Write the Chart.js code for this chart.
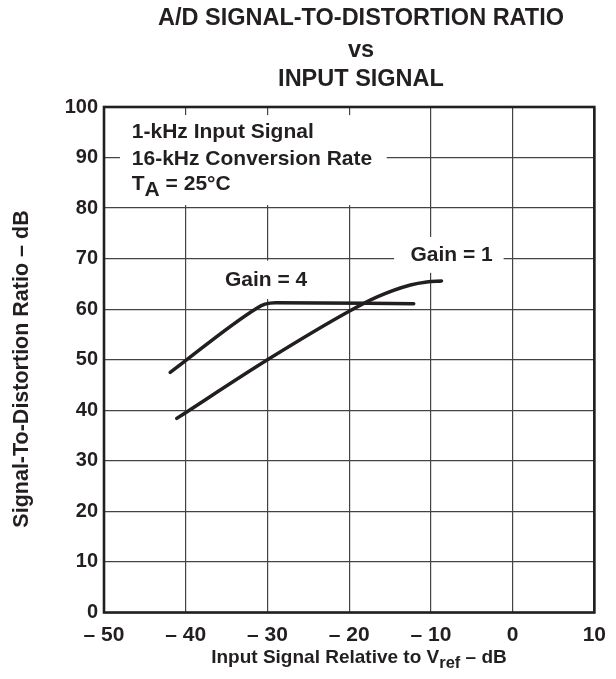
<!DOCTYPE html>
<html><head><meta charset="utf-8">
<script src="https://cdn.jsdelivr.net/npm/chart.js@4.4.1/dist/chart.umd.min.js"></script>
<style>html,body{margin:0;padding:0;background:#fff}#wrap{position:relative;width:616px;height:679px}</style>
</head><body><div id="wrap"><canvas id="c"></canvas></div>
<script>
/* A/D signal-to-distortion vs input signal */
const xTickLabels=['– 50','– 40','– 30','– 20','– 10','0','10'];
const yTickLabels=['0','10','20','30','40','50','60','70','80','90','100'];
const gain4X=[-41.9,-31.3,-30.3,-29,-12.1];
const gain4Y=[47.5,60.2,61.0,61.3,61.1];
const gain1X=[-41.1,-30,-20,-16.5,-12.5,-10.5,-8.7];
const gain1Y=[38.4,50.0,59.6,62.5,64.8,65.4,65.6];
const titleLines=['A/D SIGNAL-TO-DISTORTION RATIO','vs','INPUT SIGNAL'];
const noteLines=['1-kHz Input Signal','16-kHz Conversion Rate'];
const seriesNames=['Gain = 4','Gain = 1'];

const INK='#231f20';
function F(s){ return 'bold '+s+'px "Liberation Sans", Arial, Helvetica, sans-serif'; }
function pts(xs,ys){ return xs.map((x,i)=>({x,y:ys[i]})); }

function P(c,x,y){ return [c.scales.x.getPixelForValue(x), c.scales.y.getPixelForValue(y)]; }
function box(ctx,c,x0,y0,x1,y1){ const a=P(c,x0,y0), b=P(c,x1,y1); ctx.fillStyle='#fff'; ctx.fillRect(a[0],b[1],b[0]-a[0],a[1]-b[1]); }
function txt(ctx,c,s,x,y,size){ const p=P(c,x,y); ctx.font=F(size); ctx.fillStyle=INK; ctx.textAlign='left'; ctx.textBaseline='alphabetic'; ctx.fillText(s,p[0],p[1]); return p; }
// text with a subscript part: [main, sub, rest]
function subText(ctx,x,y,parts,size,subSize,drop,align){
  ctx.font=F(size); const w0=ctx.measureText(parts[0]).width, w2=ctx.measureText(parts[2]).width;
  ctx.font=F(subSize); const w1=ctx.measureText(parts[1]).width;
  let sx=align==='center'? x-(w0+w1+w2)/2 : x;
  ctx.fillStyle=INK; ctx.textAlign='left'; ctx.textBaseline='alphabetic';
  ctx.font=F(size); ctx.fillText(parts[0],sx,y);
  ctx.font=F(subSize); ctx.fillText(parts[1],sx+w0,y+drop);
  ctx.font=F(size); ctx.fillText(parts[2],sx+w0+w1,y);
}

const notes={
  id:'notes',
  beforeDatasetsDraw(c){
    const ctx=c.ctx; ctx.save();
    box(ctx,c,-48.05,80.6,-15.4,98.4);
    box(ctx,c,-36.7,62.0,-24.3,69.6);
    box(ctx,c,-14.5,67.2,-1.1,74.3);
    txt(ctx,c,noteLines[0],-46.6,93.8,21);
    txt(ctx,c,noteLines[1],-46.6,88.5,21);
    const p=P(c,-46.6,83.6);
    subText(ctx,p[0],p[1],['T','A',' = 25°C'],21,21,6.5,'left');
    txt(ctx,c,seriesNames[0],-35.2,64.6,21);
    txt(ctx,c,seriesNames[1],-12.5,69.6,21);
    ctx.restore();
  },
  afterDraw(c){
    const ctx=c.ctx, a=c.chartArea; ctx.save();
    ctx.strokeStyle=INK; ctx.lineWidth=2.6;
    ctx.strokeRect(a.left,a.top,a.right-a.left,a.bottom-a.top);
    // titles
    const cx=361;
    ctx.fillStyle=INK; ctx.textAlign='center'; ctx.textBaseline='alphabetic';
    ctx.font=F(23.5);
    ctx.fillText(titleLines[0],cx,25);
    ctx.fillText(titleLines[1],cx,57);
    ctx.fillText(titleLines[2],cx,85.5);
    subText(ctx,359,663,['Input Signal Relative to V','ref',' – dB'],19,16.5,5,'center');
    ctx.translate(27.5,369); ctx.rotate(-Math.PI/2);
    ctx.font=F(21.5); ctx.textAlign='center';
    ctx.fillText('Signal-To-Distortion Ratio – dB',0,0);
    ctx.restore();
  }
};

const line={borderColor:INK,borderWidth:3.5,pointRadius:0,fill:false,cubicInterpolationMode:'monotone',borderCapStyle:'round',borderJoinStyle:'round'};
new Chart(document.getElementById('c'),{
  type:'line',
  data:{datasets:[
    Object.assign({label:seriesNames[0],data:pts(gain4X,gain4Y)},line),
    Object.assign({label:seriesNames[1],data:pts(gain1X,gain1Y)},line)
  ]},
  options:{
    responsive:true,maintainAspectRatio:false,animation:false,
    layout:{padding:{top:107,right:11.7,left:0,bottom:0}},
    plugins:{legend:{display:false},tooltip:{enabled:false}},
    scales:{
      x:{type:'linear',min:-50,max:10,
        afterFit(s){ s.height=66.5; },
        ticks:{stepSize:10,color:INK,font:{family:'"Liberation Sans", Arial, sans-serif',size:21,weight:'bold'},padding:10,maxRotation:0,
          callback:(v,i)=>xTickLabels[i]},
        grid:{color:'#444',lineWidth:1.2,drawTicks:false},border:{display:false}},
      y:{min:0,max:100,
        afterFit(s){ s.width=104; },
        ticks:{stepSize:10,color:INK,font:{family:'"Liberation Sans", Arial, sans-serif',size:20,weight:'bold'},padding:6,
          callback:(v,i)=>yTickLabels[i]},
        grid:{color:'#444',lineWidth:1.2,drawTicks:false},border:{display:false}}
    }
  },
  plugins:[notes]
});
</script></body></html>
